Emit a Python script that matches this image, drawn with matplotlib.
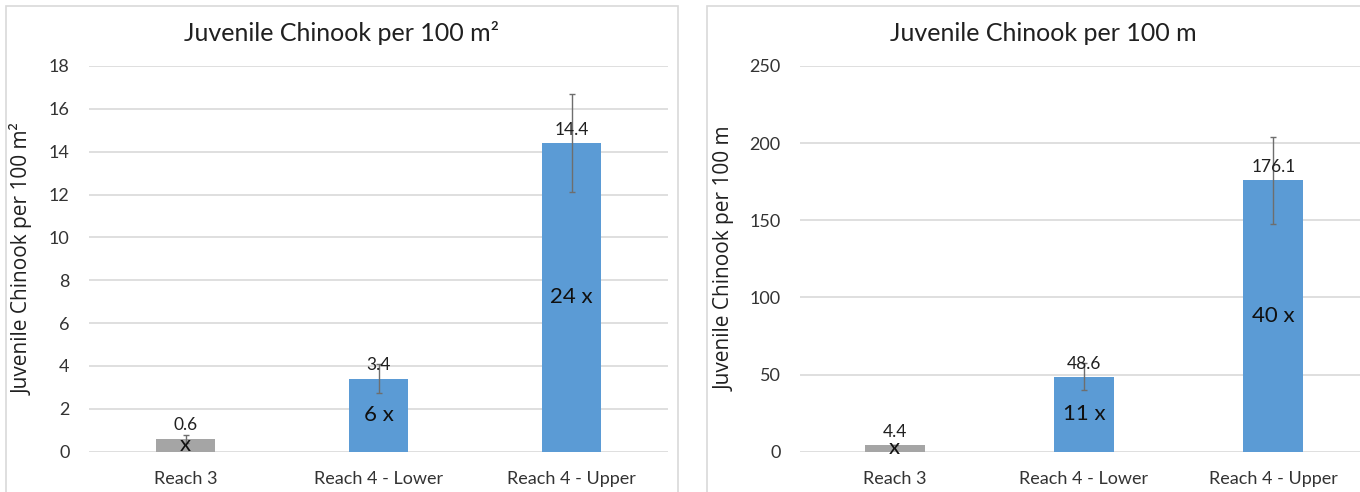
import matplotlib
matplotlib.use("Agg")
import matplotlib.pyplot as plt
from matplotlib.patches import Rectangle

reaches = ["Reach 3", "Reach 4 - Lower", "Reach 4 - Upper"]
bar_colors = ["#A5A5A5", "#5B9BD5", "#5B9BD5"]
inner_labels = ["x", "6 x", "24 x"]
inner_labels_m = ["x", "11 x", "40 x"]

# per 100 m2
area_vals = [0.6, 3.4, 14.4]
area_err = [0.2, 0.68, 2.3]
# per 100 m
len_vals = [4.4, 48.6, 176.1]
len_err = [0.0, 8.8, 28.2]

W, H = 1360, 492
plt.rcParams['font.family'] = ['Lato', 'DejaVu Sans']
fig = plt.figure(figsize=(W / 100, H / 100), dpi=100)

grid_c = "#D9D9D9"
txt_c = "#333333"

# panel frames
fig.patches.append(Rectangle((6 / W, -0.1), 672 / W, 1.1 - 6 / H, transform=fig.transFigure,
                             fill=False, edgecolor=grid_c, lw=1.2))
fig.patches.append(Rectangle((707 / W, -0.1), 700 / W, 1.1 - 6 / H, transform=fig.transFigure,
                             fill=False, edgecolor=grid_c, lw=1.2))


def panel(rect, vals, err, inner, ymax, step, ylabel, title, title_x, bw, lab_x, lab_off):
    ax = fig.add_axes(rect)
    x = range(len(vals))
    ax.bar(x, vals, width=bw, color=bar_colors, zorder=2)
    ax.errorbar(x, vals, yerr=err, fmt='none', ecolor="#6E6E6E", elinewidth=1,
                capsize=2, capthick=1, zorder=3)
    for i, v in enumerate(vals):
        ax.text(i, v + lab_off, f"{v}", ha='center', va='bottom', fontsize=12.5,
                color="#202020", zorder=4)
        ax.text(i, v / 2, inner[i], ha='center', va='center', fontsize=16,
                color="#101010", zorder=4)
    ax.set_xlim(-0.5, 2.5)
    ax.set_ylim(0, ymax)
    ax.set_yticks(range(0, ymax + 1, step))
    ax.set_xticks(list(x))
    ax.set_xticklabels(reaches)
    ax.grid(axis='y', color=grid_c, lw=1.2, zorder=0)
    ax.set_axisbelow(True)
    for s in ax.spines.values():
        s.set_visible(False)
    ax.tick_params(length=0, labelsize=13, colors=txt_c)
    ax.tick_params(axis='y', pad=14)
    ax.tick_params(axis='x', pad=14)
    ax.set_ylabel(ylabel, fontsize=15, family=['Open Sans', 'DejaVu Sans'], color="#202020")
    ax.yaxis.set_label_coords(lab_x, 0.5)
    fig.text(title_x / W, 1 - 33 / H, title, ha='center', va='center', fontsize=18, color="#202020")
    return ax


panel([89 / W, 40.3 / H, 579 / W, 385.7 / H], area_vals, area_err, inner_labels, 18, 2,
      "Juvenile Chinook per 100 m²", "Juvenile Chinook per 100 m²", 342, 0.31, -0.095, 0.25)
panel([800 / W, 40.3 / H, 568 / W, 385.7 / H], len_vals, len_err, inner_labels_m, 250, 50,
      "Juvenile Chinook per 100 m", "Juvenile Chinook per 100 m", 1043, 0.317, -0.114, 3)

fig.savefig("out.png", dpi=100)
